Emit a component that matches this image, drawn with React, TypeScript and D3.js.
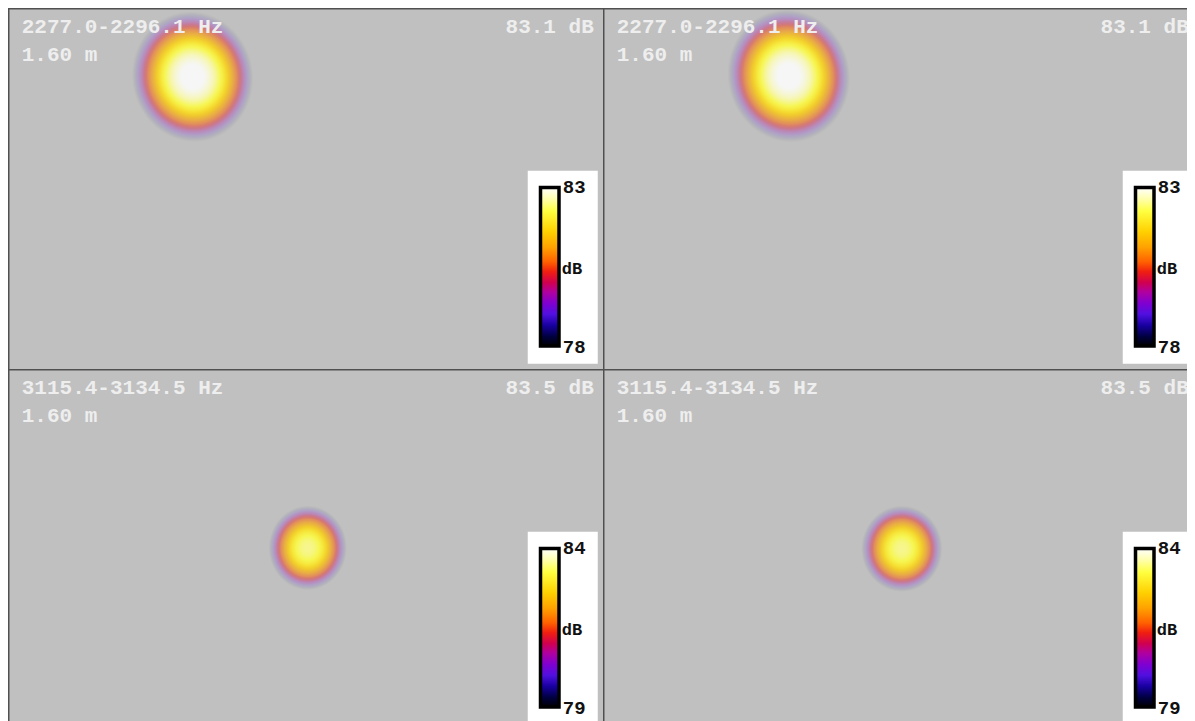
import React from "react";
import * as d3 from "d3";

// ---- data ----
const bandLabels = ["2277.0-2296.1 Hz", "2277.0-2296.1 Hz", "3115.4-3134.5 Hz", "3115.4-3134.5 Hz"];
const distances = [1.6, 1.6, 1.6, 1.6];
const peakLevels = [83.1, 83.1, 83.5, 83.5];
const scaleMax = [83, 83, 84, 84];
const scaleMin = [78, 78, 79, 79];
// source position in scene (m), lobe half-widths at display floor (m), tilt (deg)
const sourceX = [-0.382, -0.378, 0.005, 0.002];
const sourceY = [0.374, 0.377, 0.008, 0.005];
const lobeRx = [0.204, 0.206, 0.132, 0.137];
const lobeRy = [0.218, 0.222, 0.141, 0.144];
const lobeTilt = [-12, -12, 0, 0];

// colormap (normalized level -> colour)
const cmapStops = [0, 0.06, 0.13, 0.2, 0.27, 0.34, 0.4, 0.47, 0.53, 0.62, 0.72, 0.85, 0.93, 1];
const cmapColors = ["#000000", "#000040", "#1800a0", "#5010e0", "#8000d0", "#b000a0", "#d00050", "#f02010", "#ff6000", "#ffa000", "#ffd000", "#ffff40", "#ffffb0", "#ffffff"];

const PW = 595;
const PH = 361;

const cmap = d3.scaleLinear<string>().domain(cmapStops).range(cmapColors).interpolate(d3.interpolateRgb).clamp(true);
const xScene = d3.scaleLinear().domain([-1, 1]).range([0, PW]);
const yScene = d3.scaleLinear().domain([0.6, -0.6]).range([0, PH]);
const alphaOf = (v: number) => 0.86 * Math.pow(Math.max(0, Math.min(1, v / 0.78)), 1.3);

const FONT = "'Liberation Mono', 'Courier New', monospace";

function Panel({ i }: { i: number }) {
  const col = i % 2;
  const row = Math.floor(i / 2);
  const ox = col * PW;
  const oy = row * PH;
  const lo = scaleMin[i];
  const hi = scaleMax[i];
  const norm = d3.scaleLinear().domain([lo, hi]).range([0, 1]);
  const N = 40;
  const radial = d3.range(N + 1).map((k) => {
    const t = k / N;
    const db = peakLevels[i] - (peakLevels[i] - lo) * Math.pow(t, 2.3);
    const v = Math.max(0, Math.min(1, norm(db)));
    return { off: t, color: cmap(v), op: alphaOf(v) };
  });
  const cx = xScene(sourceX[i]);
  const cy = yScene(sourceY[i]);
  const rx = xScene(sourceX[i] + lobeRx[i]) - cx;
  const ry = yScene(sourceY[i] - lobeRy[i]) - cy;
  const boxW = 70;
  const boxH = 193;
  const bx = PW - 6 - boxW;
  const by = 162;
  const barX = bx + 11;
  const barY = by + 15;
  const barW = 22;
  const barH = 162;
  return (
    <g transform={`translate(${ox},${oy})`}>
      <defs>
        <clipPath id={`clip${i}`}>
          <rect x={0} y={0} width={PW} height={PH} />
        </clipPath>
        <radialGradient id={`lobe${i}`} cx="50%" cy="50%" r="50%">
          {radial.map((s, k) => (
            <stop key={k} offset={s.off} stopColor={s.color} stopOpacity={s.op} />
          ))}
        </radialGradient>
        <linearGradient id={`bar${i}`} x1="0" y1="1" x2="0" y2="0">
          {cmapStops.map((s, k) => (
            <stop key={k} offset={s} stopColor={cmapColors[k]} />
          ))}
        </linearGradient>
      </defs>
      <g clipPath={`url(#clip${i})`}>
        <rect x={0} y={0} width={PW} height={PH} fill="#c0c0c0" />
        <ellipse cx={cx} cy={cy} rx={rx} ry={ry} fill={`url(#lobe${i})`} transform={`rotate(${lobeTilt[i]},${cx},${cy})`} />
        <text x={13} y={24} fill="#eeeeee" fontFamily={FONT} fontWeight="bold" fontSize={21}>
          {bandLabels[i]}
        </text>
        <text x={13} y={52} fill="#eeeeee" fontFamily={FONT} fontWeight="bold" fontSize={21}>
          {`${distances[i].toFixed(2)} m`}
        </text>
        <text x={PW - 10} y={24} fill="#eeeeee" fontFamily={FONT} fontWeight="bold" fontSize={21} textAnchor="end">
          {`${peakLevels[i].toFixed(1)} dB`}
        </text>
        <rect x={bx} y={by} width={boxW} height={boxH} fill="#ffffff" />
        <rect x={barX + 1.75} y={barY + 1.75} width={barW - 3.5} height={barH - 3.5} fill={`url(#bar${i})`} stroke="#000" strokeWidth={3.5} />
        <text x={barX + barW + 2} y={by + 22} fill="#111" fontFamily={FONT} fontWeight="bold" fontSize={19}>
          {hi}
        </text>
        <text x={barX + barW + 1} y={by + 103} fill="#111" fontFamily={FONT} fontWeight="bold" fontSize={17}>
          dB
        </text>
        <text x={barX + barW + 2} y={by + 182} fill="#111" fontFamily={FONT} fontWeight="bold" fontSize={19}>
          {lo}
        </text>
      </g>
      <rect x={0} y={0} width={PW} height={PH} fill="none" stroke="#505050" strokeWidth={1.5} />
    </g>
  );
}

export default function App() {
  return (
    <>
      <style>{`html,body{overflow:hidden;} body{margin:8px;}`}</style>
      <svg width={1192} height={724} style={{ display: "block", overflow: "hidden" }}>
        <g transform="translate(0.75,0.75)">
          {[0, 1, 2, 3].map((i) => (
            <Panel key={i} i={i} />
          ))}
        </g>
      </svg>
    </>
  );
}
